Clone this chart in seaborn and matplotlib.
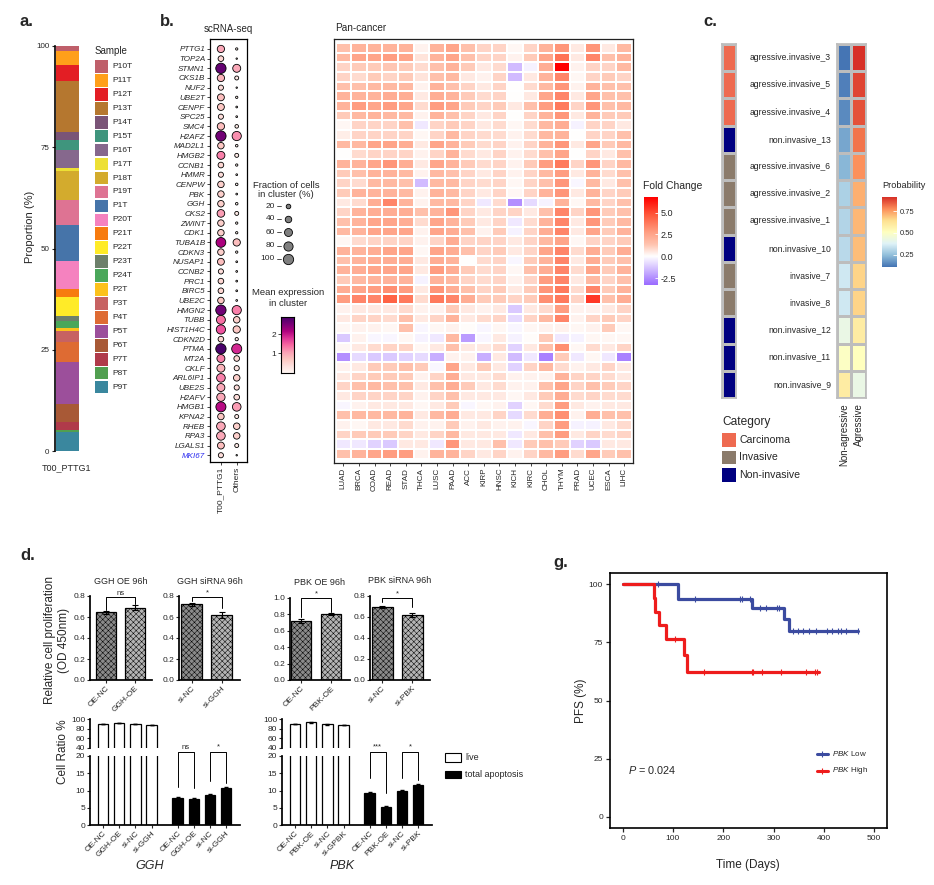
import numpy as np
import pandas as pd
import matplotlib
matplotlib.use("Agg")
import matplotlib.pyplot as plt
import seaborn as sns
from matplotlib.colors import LinearSegmentedColormap, ListedColormap, TwoSlopeNorm
from matplotlib.patches import Rectangle

# ---------------- data ----------------
# a. sample composition of the T00_PTTG1 cluster (%)
samples = ["P10T", "P11T", "P12T", "P13T", "P14T", "P15T", "P16T", "P17T", "P18T", "P19T",
           "P1T", "P20T", "P21T", "P22T", "P23T", "P24T", "P2T", "P3T", "P4T", "P5T",
           "P6T", "P7T", "P8T", "P9T"]
sample_pct = [1.2, 3.5, 3.9, 12.6, 2.0, 2.5, 4.4, 0.7, 7.2, 6.3,
              8.8, 6.9, 2.0, 4.7, 1.2, 1.8, 0.7, 2.7, 4.9, 10.3,
              4.5, 2.0, 0.6, 4.6]
sample_colors = ["#BF5F6A", "#FF9F1A", "#E31E24", "#B5772F", "#7A5477", "#3F957D", "#86688D",
                 "#EDE034", "#D3AB2D", "#DE7393", "#4674A9", "#F582BF", "#F77B0F", "#FFEB28",
                 "#6D806B", "#4AA75A", "#FCC11B", "#C76262", "#DE6B33", "#9C4F9B", "#A85936",
                 "#B03A4A", "#519F50", "#3A879E"]

# b. dot plot
genes = ["PTTG1", "TOP2A", "STMN1", "CKS1B", "NUF2", "UBE2T", "CENPF", "SPC25", "SMC4", "H2AFZ",
         "MAD2L1", "HMGB2", "CCNB1", "HMMR", "CENPW", "PBK", "GGH", "CKS2", "ZWINT", "CDK1",
         "TUBA1B", "CDKN3", "NUSAP1", "CCNB2", "PRC1", "BIRC5", "UBE2C", "HMGN2", "TUBB", "HIST1H4C",
         "CDKN2D", "PTMA", "MT2A", "CKLF", "ARL6IP1", "UBE2S", "H2AFV", "HMGB1", "KPNA2", "RHEB",
         "RPA3", "LGALS1", "MKI67"]
frac_pttg1 = [50, 30, 100, 50, 25, 45, 45, 25, 50, 100, 40, 60, 30, 25, 40, 40, 40, 55, 40, 40,
              90, 40, 45, 25, 30, 30, 40, 100, 75, 80, 30, 100, 60, 60, 70, 60, 65, 95, 40, 70,
              70, 45, 25]
expr_pttg1 = [1.0, 0.5, 2.7, 0.9, 0.4, 0.8, 0.7, 0.4, 0.8, 2.6, 0.7, 1.3, 0.5, 0.4, 0.6, 0.6, 0.6, 1.1, 0.6, 0.6,
              2.2, 0.6, 0.8, 0.4, 0.5, 0.5, 0.7, 2.6, 1.4, 1.6, 0.5, 2.9, 1.3, 0.9, 1.3, 1.0, 1.0, 2.1, 0.7, 1.0,
              1.0, 0.8, 0.4]
frac_others = [5, 2, 60, 15, 2, 5, 3, 3, 12, 80, 6, 15, 5, 3, 6, 3, 6, 15, 5, 5,
               50, 5, 3, 3, 3, 3, 3, 80, 40, 50, 10, 95, 30, 25, 40, 25, 30, 70, 15, 40,
               40, 15, 2]
expr_others = [0.1, 0.05, 1.0, 0.2, 0.02, 0.1, 0.05, 0.05, 0.2, 1.2, 0.1, 0.2, 0.1, 0.05, 0.1, 0.05, 0.1, 0.2, 0.1, 0.1,
               0.8, 0.1, 0.05, 0.05, 0.05, 0.05, 0.05, 1.3, 0.6, 0.7, 0.2, 1.9, 0.5, 0.3, 0.6, 0.4, 0.4, 1.1, 0.2, 0.6,
               0.6, 0.2, 0.02]
clusters = ["T00_PTTG1", "Others"]
size_legend = [20, 40, 60, 80, 100]

# b. pan-cancer fold change (rows = genes, columns = cancers)
cancers = ["LUAD", "BRCA", "COAD", "READ", "STAD", "THCA", "LUSC", "PAAD", "ACC", "KIRP",
           "HNSC", "KICH", "KIRC", "CHOL", "THYM", "PRAD", "UCEC", "ESCA", "LIHC"]
fold_change = [
    [1.5, 2, 2, 2, 2, 0.3, 2, 2.5, 1.5, 1, 1, 0.2, 1, 2, 3, 0.5, 3, 0.5, 1.8],
    [1.8, 2.5, 2.5, 2.8, 2.5, 0.6, 2, 2.5, 1.5, 1, 1, 0.3, 1.2, 2.5, 4, 0.5, 3.5, 1.5, 2],
    [1, 1.2, 1.2, 1.3, 1.2, 0.8, 1.5, 2, 1.2, 0.5, 0.8, -1.5, -0.3, 2.2, 6.8, 0.3, 1, 1, 1.8],
    [1, 0.8, 1.2, 1, 1.2, 0.6, 1.5, 1.8, 0.5, 0.3, 1, -1.5, 0.5, 2, 3.5, 0.2, 1, 1.2, 1],
    [1.5, 1.5, 1.8, 1.8, 1.8, 0.3, 2, 1.5, 1, 0.5, 1, 0, 0.8, 1.8, 3, 0.3, 2, 1.5, 1.5],
    [2, 2, 2, 2.2, 2.2, 0.5, 2.2, 2, 1.2, 0.8, 1, 0, 0.5, 2.5, 3.5, 0.5, 2.5, 1.5, 1.5],
    [2, 2.8, 2.5, 2.8, 2.5, 0.8, 2.8, 2.5, 1.2, 1, 1.2, 0.5, 1.5, 2.8, 3.8, 1, 3, 1.5, 1.8],
    [1.2, 1.8, 2, 1.8, 1.8, 0.3, 2, 1.5, 1, 0.5, 1, 0, 1, 2, 3, 0.5, 2, 1.2, 1.2],
    [0.2, 1, 1, 1, 1.5, -0.5, 1, 1.2, 1, 0.5, 0.8, 0.2, 0.8, 1.8, 2.2, -0.3, 1, 1, 0.5],
    [0.4, 1, 1, 1, 1, 0.2, 1, 1.8, 1, 0.8, 0.8, 0.3, 0.8, 1.8, 2, 0, 1, 1, 1.5],
    [1.8, 1.8, 2.5, 2.5, 2.2, 0.5, 2.5, 2, 1.2, 0.8, 1, 0.3, 1, 2, 3, 0.5, 2.5, 1.2, 1.8],
    [0, 0.8, 1, 1, 1, 0.3, 1, 2, 0.8, 0.5, 1, 0.3, 0.8, 1.5, 2.5, 0, 1, 0.5, 1.5],
    [2, 2, 2.5, 3, 2.2, 0.5, 2.5, 2, 1.2, 0.8, 1, 0.3, 1.2, 2.8, 3.8, 1, 3, 1, 1.8],
    [1.2, 1.5, 2, 2, 1.8, 0.3, 1.8, 1.5, 1, 0.5, 1, 0.3, 1, 1.8, 2.8, 0.5, 2, 0.8, 1.5],
    [1, 0.8, 1.8, 1.8, 1.5, -1.5, 1.8, 1.8, 1, 0.8, 1, 0.2, 1, 1.5, 3, -0.2, 1.8, 0.5, 1.5],
    [1.2, 2, 2, 2, 1.8, 0.3, 2, 1.8, 1, 0.5, 1, 0.2, 1, 2, 3, 0.5, 2, 1, 1.2],
    [0.5, 0.8, 2.2, 3.5, 2, 0.3, 1.8, 1.8, 1, -0.5, 0.8, -2.5, -0.8, -0.3, 2, 0.2, 1.8, 1, 1.5],
    [1, 2, 2.2, 2.2, 2.2, 1.5, 2, 3, 1, 0.5, 1, 1, 0.5, 1.5, 3.5, 1, 3, 1.2, 1.5],
    [1.5, 2, 2.5, 2.5, 2.2, 0.8, 2.5, 2, 1.2, 0.5, 1, -0.5, 0.8, 2, 3.5, 0.5, 3, 1.2, 1.8],
    [1.8, 2, 2.5, 2.5, 2.5, 0.3, 2.5, 2.2, 1.5, 0.3, 1.2, -0.3, 1, 2.2, 3.5, 0.5, 2.5, 1.2, 2],
    [0.2, 0.8, 1, 1, 1, 0.3, 1, 2.2, 1, 1, 1, 0.5, 1, 1.8, 2.5, 0.2, 1, 1, 1.2],
    [2, 2, 2.2, 2.5, 2.5, 0.2, 2.5, 2.2, 1.5, 1, 1.2, 0.5, 1, 2.5, 3.5, 0.8, 2.2, 1.2, 2.2],
    [1.5, 2, 2.2, 2.2, 2.2, 0.5, 2.2, 2, 0, 0.8, 1, -0.2, 1.2, 2, 3.5, 0.5, 2.2, 1.2, 1.5],
    [2, 2.2, 2.5, 2.5, 2.5, 0.5, 2.8, 2.2, 1.2, 0.8, 1, 0.2, 1.5, 2.2, 3.5, 0.8, 2.5, 1.2, 2],
    [1.2, 1.8, 2, 2, 2, -0.3, 2, 1.8, 1, 0.8, 1, 0.3, 1, 2.8, 3.5, 0.5, 1.8, 1, 1.5],
    [2.2, 2.5, 2.8, 3.2, 2.8, 0.5, 3, 2.2, 1.5, 1, 1.2, 0.5, 1.2, 3, 3.8, 0.8, 3.5, 1.2, 2],
    [2.8, 3.5, 3.5, 4.5, 3.8, 0.8, 3.8, 3.5, 2.2, 1.2, 1.2, 1, 1.2, 3.2, 3.8, 1, 5.5, 1.5, 2.2],
    [0.3, 0.5, 0.5, 0.5, 0.8, 0.3, 0.3, 1.2, 0.5, 0.3, 0.5, -1.2, 0.5, 0.8, 2.8, 0.3, 0.3, 0.5, 1],
    [0.5, 1, 1, 0.8, 1.5, 0.5, 1, 2, 0.5, 0.8, 1, -0.8, 1, 1.8, 3.5, 0.3, 1, 1.2, 1],
    [0.2, 0.3, 0.3, 0.2, 1.5, -0.2, 0.2, 0.3, 0.1, -0.2, 0.2, -0.2, 0.2, 0.3, 0.3, 0.2, 0.3, 1.2, 0.2],
    [-1.2, 0.3, -0.2, -0.2, 0.2, -0.3, -0.5, 1.8, -2.2, -0.2, 0.5, -0.3, 0.1, 1.2, -0.5, -0.3, 0.2, 0.2, 0.2],
    [0.2, 0.5, 0.8, 1, 1, 0.2, 0.5, 1.5, 0.5, 0.5, 0.8, -1, 0.5, 1.5, 3.2, 0.2, 0.8, 0.5, 1],
    [-2.5, -0.8, -1.2, -1.2, -1, -0.8, -1.8, 0.3, 0.3, -1.8, 0.5, -1.5, -0.5, -2.8, 1.2, -0.5, 0.2, -0.5, -2.8],
    [0.3, 0.5, 1.2, 1.2, 1.5, 1.2, -0.2, 2.5, 0.5, 1.2, 0.5, -1, 1, 1.8, 0.8, 0.3, 0.5, 1, 0.5],
    [0.5, 1, 1.2, 1.2, 1.2, 0.3, 1, 2.2, 0.5, 0.5, 0.8, 0.3, 0.3, 0.3, 2, 1, 1, 0.8, 0.5],
    [1, 1.5, 1.8, 1.5, 1.5, 0.5, 1.5, 2.2, 1.2, 0.5, 0.8, 0.3, 0.3, 1.5, 2.5, 1, 1.5, 1.2, 1],
    [0.5, 1, 1, 1, 1, 0.3, 1, 1.5, 0.5, 0.5, 0.5, 0.2, 0.5, 1.2, 2.2, 0.8, 1, 0.8, 0.8],
    [-0.2, 0.3, 0.5, 0.5, 0.5, 0.2, 0.5, 1.2, -0.2, 0.2, 0.3, -1, 0.2, 0.8, 2.8, 0.5, 0.3, 0.5, 0.5],
    [1.5, 1.8, 1.8, 1.8, 2, 0.5, 1.8, 2.2, 0.5, 0.5, 1, -0.8, 0.8, 2.2, 3.2, 0.3, 2.2, 1.5, 1.5],
    [0.3, 0.2, 0.5, 0.5, 0.8, 0.3, 0.3, 1.2, 0.3, 0.5, 0.3, 0.3, -0.2, 1, 2.8, -0.3, -0.3, 0.5, 0.8],
    [1, 1.2, 1.2, 1.2, 1, 0.5, 1, 1.8, 0.5, 0.5, 0.5, -0.5, 0.5, 1.5, 2.8, 0.5, 1, 0.8, 1],
    [-0.5, -0.5, -1, -1.2, 0.5, 0.5, -0.5, 3, 0.5, 0.5, 1.5, -0.5, 1.2, 1.5, 1.2, -1, -1.2, 0.5, 0.5],
    [1.5, 2, 2.5, 2.8, 2.8, 0.3, 2, 2, 1, 0.5, 1, 0.3, 1, 1.8, 2.8, 0.8, 2.5, 1.2, 1.5],
]

# c. state classification
states = ["agressive.invasive_3", "agressive.invasive_5", "agressive.invasive_4", "non.invasive_13",
          "agressive.invasive_6", "agressive.invasive_2", "agressive.invasive_1", "non.invasive_10",
          "invasive_7", "invasive_8", "non.invasive_12", "non.invasive_11", "non.invasive_9"]
state_category = ["Carcinoma", "Carcinoma", "Carcinoma", "Non-invasive", "Invasive", "Invasive",
                  "Invasive", "Non-invasive", "Invasive", "Invasive", "Non-invasive", "Non-invasive",
                  "Non-invasive"]
categories = ["Carcinoma", "Invasive", "Non-invasive"]
prob_nonagr = [0.11, 0.13, 0.15, 0.20, 0.23, 0.29, 0.30, 0.31, 0.35, 0.35, 0.42, 0.50, 0.59]
prob_agr = [0.91, 0.88, 0.86, 0.81, 0.77, 0.72, 0.71, 0.70, 0.66, 0.66, 0.59, 0.51, 0.42]

# d. proliferation (OD 450nm)
ggh_oe_groups, ggh_oe_od, ggh_oe_err = ["OE-NC", "GGH-OE"], [0.645, 0.69], [0.015, 0.02]
ggh_si_groups, ggh_si_od, ggh_si_err = ["si-NC", "si-GGH"], [0.72, 0.62], [0.015, 0.03]
pbk_oe_groups, pbk_oe_od, pbk_oe_err = ["OE-NC", "PBK-OE"], [0.72, 0.80], [0.025, 0.01]
pbk_si_groups, pbk_si_od, pbk_si_err = ["si-NC", "si-PBK"], [0.69, 0.62], [0.01, 0.02]

# d. apoptosis (%)
ggh_live_groups = ["OE-NC", "GGH-OE", "si-NC", "si-GGH"]
ggh_apop_groups = ["OE-NC", "GGH-OE", "si-NC", "si-GGH"]
ggh_live, ggh_live_err = [90, 91, 89.5, 88], [0.3, 0.3, 0.4, 0.5]
ggh_apop, ggh_apop_err = [7.8, 7.5, 8.8, 10.8], [0.2, 0.2, 0.2, 0.3]
pbk_live_groups = ["OE-NC", "PBK-OE", "si-NC", "si-GPBK"]
pbk_apop_groups = ["OE-NC", "PBK-OE", "si-NC", "si-PBK"]
pbk_live, pbk_live_err = [90, 93, 89, 87.5], [0.3, 0.3, 0.4, 0.4]
pbk_apop, pbk_apop_err = [9.3, 5.2, 10.0, 11.6], [0.2, 0.2, 0.2, 0.2]

# g. Kaplan-Meier (PFS %)
km_low_t = [0, 111, 258, 321, 330]
km_low_s = [100, 93.8, 90.0, 85.0, 80.0]
km_low_end = 467
km_low_cens = [70, 144, 233, 238, 254, 273, 286, 306, 311, 339, 349, 359, 371, 385, 407, 417, 428, 435, 445, 467]
km_high_t = [0, 62, 65, 73, 87, 122, 129]
km_high_s = [100, 94.1, 88.2, 82.4, 76.5, 69.6, 62.1]
km_high_end = 390
km_high_cens = [105, 162, 257, 260, 278, 315, 364, 382, 387]

# ---------------- style ----------------
sns.set_theme(style="ticks")
plt.rcParams['font.family'] = ['Liberation Sans', 'DejaVu Sans']
plt.rcParams['mathtext.fontset'] = 'custom'
plt.rcParams['mathtext.it'] = 'Liberation Sans:italic'
plt.rcParams['mathtext.rm'] = 'Liberation Sans'
plt.rcParams['hatch.linewidth'] = 0.35
plt.rcParams['axes.edgecolor'] = 'black'

W, H = 934, 885
fig = plt.figure(figsize=(W / 100, H / 100), dpi=100)


def add_ax(x0, y0, x1, y1):
    # pixel box (top-left origin) -> figure axes
    return fig.add_axes([x0 / W, 1 - y1 / H, (x1 - x0) / W, (y1 - y0) / H])


cv = add_ax(0, 0, W, H)
cv.set_xlim(0, W)
cv.set_ylim(H, 0)
cv.axis('off')
cv.set_zorder(10)

for lab, x, y in [("a.", 20, 22), ("b.", 160, 21), ("c.", 703, 22), ("d.", 20, 556), ("g.", 553, 563)]:
    cv.text(x, y, lab, fontsize=12, fontweight='bold', va='center')

# ---------------- a. ----------------
ax_a = add_ax(55, 46, 80, 451)
bottom = 0
for pct, col in zip(sample_pct[::-1], sample_colors[::-1]):
    ax_a.bar(0, pct, bottom=bottom, width=0.9, color=col, linewidth=0)
    bottom += pct
ax_a.set_xlim(-0.5, 0.5)
ax_a.set_ylim(0, 100)
ax_a.set_yticks([0, 25, 50, 75, 100])
ax_a.set_xticks([])
ax_a.tick_params(axis='y', labelsize=5.8, length=2.5, width=0.8, pad=1.5)
sns.despine(ax=ax_a, bottom=True)
ax_a.spines['left'].set_linewidth(1.2)
cv.text(30, 227, "Proportion (%)", rotation=90, ha='center', va='center', fontsize=8)
cv.text(67, 468, "T00_PTTG1", ha='center', va='center', fontsize=6.5)
cv.text(95, 51, "Sample", va='center', fontsize=7)
for i, (name, col) in enumerate(zip(samples, sample_colors)):
    y = 66.5 + 13.94 * i
    cv.add_patch(Rectangle((95, y - 6.3), 12.7, 12.6, color=col, lw=0))
    cv.text(112, y, name, va='center', fontsize=6)

# ---------------- b. dot plot ----------------
dot_df = pd.DataFrame({
    "gene": genes * 2,
    "cluster": [clusters[0]] * len(genes) + [clusters[1]] * len(genes),
    "frac": frac_pttg1 + frac_others,
    "expr": expr_pttg1 + expr_others,
})
ax_b = add_ax(210, 39, 247, 462)
sns.scatterplot(data=dot_df, x="cluster", y="gene", size="frac", sizes=(0, 55), size_norm=(0, 100),
                hue="expr", palette="RdPu", hue_norm=(0, 2.9), edgecolor="black", linewidth=0.6,
                legend=False, ax=ax_b)
ax_b.set_xlim(-0.69, 1.65)
ax_b.set_ylim(42.7, -1.03)
ax_b.set_yticks(range(len(genes)))
ax_b.set_yticklabels(genes, fontsize=5.8, style='italic')
ax_b.get_yticklabels()[-1].set_color('#2B2BF0')
ax_b.set_xticks([0, 1])
ax_b.set_xticklabels(clusters, rotation=90, fontsize=6)
ax_b.set_xlabel("")
ax_b.set_ylabel("")
ax_b.tick_params(length=2, width=0.6, pad=1.5)
for sp in ax_b.spines.values():
    sp.set_visible(True)
    sp.set_linewidth(0.9)
cv.text(228, 29, "scRNA-seq", ha='center', va='center', fontsize=7)

cv.text(286, 185, "Fraction of cells", ha='center', va='center', fontsize=6.8)
cv.text(286, 194.5, "in cluster (%)", ha='center', va='center', fontsize=6.8)
for v, y in zip(size_legend, [206, 218.5, 232, 245.5, 258.5]):
    cv.scatter([288.3], [y], s=55 * v / 100, color='#7f7f7f', edgecolor='black', linewidth=0.6)
    cv.text(275, y, str(v), ha='right', va='center', fontsize=6)
    cv.plot([277, 280.5], [y, y], color='#333333', lw=0.6)
cv.text(288, 292.5, "Mean expression", ha='center', va='center', fontsize=6.8)
cv.text(288, 304, "in cluster", ha='center', va='center', fontsize=6.8)
cax_e = add_ax(281, 316.7, 294, 372.7)
cax_e.imshow(np.linspace(0, 2.9, 200)[:, None], aspect='auto', origin='lower', cmap='RdPu',
             extent=[0, 1, 0, 2.9], vmin=0, vmax=2.9)
cax_e.set_xticks([])
cax_e.set_yticks([1, 2])
cax_e.tick_params(axis='y', labelsize=6, length=2, width=0.6, pad=1.5)
for sp in cax_e.spines.values():
    sp.set_linewidth(0.8)

# ---------------- b. pan-cancer heatmap ----------------
fc_df = pd.DataFrame(fold_change, index=genes, columns=cancers)
fc_norm = TwoSlopeNorm(vmin=-3.3, vcenter=0, vmax=6.8)
fc_cmap = LinearSegmentedColormap.from_list(
    "fc", [(0, "#9A6BFF"), (0.5, "#FFFFFF"), (0.6, "#FFC4B0"), (0.7, "#FFA084"),
           (0.85, "#FF5A3C"), (1.0, "#FF0000")])
ax_h = add_ax(334, 39, 633, 463)
sns.heatmap(fc_df, cmap=fc_cmap, norm=fc_norm, cbar=False, linewidths=1.2, linecolor='white',
            xticklabels=True, yticklabels=False, ax=ax_h)
ax_h.set_xlim(-0.1, 19.06)
ax_h.set_ylim(43.45, -0.4)
ax_h.set_xticks(np.arange(len(cancers)) + 0.5)
ax_h.set_xticklabels(cancers, rotation=90, fontsize=5.8)
ax_h.tick_params(axis='x', length=2, width=0.6, pad=1.5, bottom=True)
for sp in ax_h.spines.values():
    sp.set_visible(True)
    sp.set_color('#222222')
    sp.set_linewidth(0.9)
cv.text(335, 28, "Pan-cancer", va='center', fontsize=7.2)

cv.text(643, 186, "Fold Change", va='center', fontsize=7.5)
cax_fc = add_ax(644, 197, 658, 285)
cax_fc.imshow(np.linspace(-3.3, 6.8, 300)[:, None], aspect='auto', origin='lower', cmap=fc_cmap,
              norm=fc_norm, extent=[0, 1, -3.3, 6.8])
cax_fc.set_xticks([])
cax_fc.set_yticks([-2.5, 0, 2.5, 5.0])
cax_fc.set_yticklabels(["-2.5", "0.0", "2.5", "5.0"])
cax_fc.yaxis.tick_right()
cax_fc.tick_params(axis='y', labelsize=6.5, length=2, width=0.6, color='white', pad=2, direction='in')
for sp in cax_fc.spines.values():
    sp.set_visible(False)

# ---------------- c. ----------------
cat_colors = ["#EE6A50", "#8B7B6B", "#000080"]
cat_df = pd.DataFrame({"Category": [categories.index(c) for c in state_category]}, index=states)
ax_c1 = add_ax(722, 44, 735.5, 398)
sns.heatmap(cat_df, cmap=ListedColormap(cat_colors), vmin=-0.5, vmax=2.5, cbar=False,
            linewidths=1, linecolor='#BDBDBD', xticklabels=False, yticklabels=False, ax=ax_c1)
for sp in ax_c1.spines.values():
    sp.set_visible(True)
    sp.set_color('#BDBDBD')

prob_cmap = LinearSegmentedColormap.from_list(
    "prob", ["#4575B4", "#91BFDB", "#E0F3F8", "#FFFFBF", "#FEE090", "#FC8D59", "#D73027"])
prob_df = pd.DataFrame({"Non-agressive": prob_nonagr, "Agressive": prob_agr}, index=states)
ax_c2 = add_ax(836.5, 44, 866, 398)
sns.heatmap(prob_df, cmap=prob_cmap, vmin=0.11, vmax=0.91, cbar=False, linewidths=1,
            linecolor='#BDBDBD', xticklabels=True, yticklabels=True, ax=ax_c2)
ax_c2.set_yticks(np.arange(len(states)) + 0.5)
ax_c2.set_yticklabels(states, rotation=0, fontsize=6.2)
ax_c2.set_xticks([0.5, 1.5])
ax_c2.set_xticklabels(prob_df.columns, rotation=90, fontsize=7)
ax_c2.tick_params(length=0, pad=4)
for sp in ax_c2.spines.values():
    sp.set_visible(True)
    sp.set_color('#BDBDBD')

cv.text(882, 185, "Probability", va='center', fontsize=6.6)
cax_p = add_ax(882, 197, 897, 267)
cax_p.imshow(np.linspace(0.11, 0.91, 200)[:, None], aspect='auto', origin='lower', cmap=prob_cmap,
             extent=[0, 1, 0.11, 0.91], vmin=0.11, vmax=0.91)
cax_p.set_xticks([])
cax_p.set_yticks([0.25, 0.5, 0.75])
cax_p.set_yticklabels(["0.25", "0.50", "0.75"])
cax_p.yaxis.tick_right()
cax_p.tick_params(axis='y', labelsize=5.4, length=3, width=0.6, color='white', pad=2, direction='in')
for sp in cax_p.spines.values():
    sp.set_visible(False)

cv.text(722, 421.5, "Category", va='center', fontsize=8.6)
for i, (name, col) in enumerate(zip(categories, cat_colors)):
    y = 440 + 17.5 * i
    cv.add_patch(Rectangle((722, y - 6.6), 13.5, 13.3, color=col, lw=0))
    cv.text(739, y, name, va='center', fontsize=7.6)


# ---------------- d. proliferation ----------------
def prolif_panel(box, groups, od, err, ymax, xlim, width, title, sig, bracket):
    ax = add_ax(*box)
    df = pd.DataFrame({"group": groups, "od": od})
    sns.barplot(data=df, x="group", y="od", color="#9a9a9a", width=width, edgecolor="black",
                linewidth=0.9, ax=ax)
    for p, fc in zip(ax.patches, ["#8a8a8a", "#b4b4b4"]):
        p.set_facecolor(fc)
        p.set_hatch("xxxxxx")
    ax.errorbar(range(len(od)), od, yerr=err, fmt='none', ecolor='black', elinewidth=0.8, capsize=2,
                capthick=0.8)
    ax.set_xlim(*xlim)
    ax.set_ylim(0, ymax)
    ax.set_yticks(np.round(np.arange(0, ymax + 0.01, 0.2), 1))
    ax.set_xticks([0, 1])
    ax.set_xticklabels(groups, rotation=45, ha='right', rotation_mode='anchor', fontsize=6)
    ax.set_xlabel("")
    ax.set_ylabel("")
    ax.tick_params(labelsize=6, length=2, width=0.8, pad=1.5)
    sns.despine(ax=ax)
    ax.set_title(title, fontsize=6.5, pad=9)
    top, l0, l1 = bracket
    ax.plot([0, 0, 1, 1], [l0, top, top, l1], color='black', lw=0.7, clip_on=False)
    ax.text(0.5, top + ymax * 0.005, sig, ha='center', va='bottom', fontsize=5.5)
    return ax


prolif_panel((90, 596, 152, 680), ggh_oe_groups, ggh_oe_od, ggh_oe_err, 0.8, (-0.55, 1.59), 0.7,
             "GGH OE 96h", "ns", (0.79, 0.67, 0.72))
prolif_panel((179, 596, 240, 680), ggh_si_groups, ggh_si_od, ggh_si_err, 0.8, (-0.43, 1.6), 0.7,
             "GGH siRNA 96h", "*", (0.79, 0.75, 0.686))
prolif_panel((290, 597.7, 350, 680), pbk_oe_groups, pbk_oe_od, pbk_oe_err, 1.0, (-0.37, 1.63), 0.65,
             "PBK OE 96h", "*", (1.0, 0.77, 0.83))
prolif_panel((370, 595.7, 430, 680), pbk_si_groups, pbk_si_od, pbk_si_err, 0.8, (-0.4, 1.6), 0.7,
             "PBK siRNA 96h", "*", (0.78, 0.74, 0.69))

cv.text(57, 640, "Relative cell proliferation\n(OD 450nm)", rotation=90, ha='center', va='center',
        fontsize=8.5, linespacing=1.15)


# ---------------- d. apoptosis (broken axis) ----------------
def apoptosis_panel(x0, live_groups, apop_groups, live, live_err, apop, apop_err, brackets, gene):
    xpos = np.array([0, 1, 2, 3, 4.6, 5.6, 6.6, 7.6])
    ax_t = add_ax(x0, 719, x0 + 150, 748)
    ax_b = add_ax(x0, 756, x0 + 150, 825)
    for ax in (ax_t, ax_b):
        ax.bar(xpos[:4], live, width=0.65, color='white', edgecolor='black', linewidth=0.9)
        ax.bar(xpos[4:], apop, width=0.65, color='black', edgecolor='black', linewidth=0.9)
        ax.errorbar(xpos[:4], live, yerr=live_err, fmt='none', ecolor='black', elinewidth=0.7, capsize=1.5)
        ax.errorbar(xpos[4:], apop, yerr=apop_err, fmt='none', ecolor='black', elinewidth=0.7, capsize=1.5)
        ax.set_xlim(-0.8, 8.45)
        ax.tick_params(labelsize=6, length=2, width=0.8, pad=1.5)
    ax_t.set_ylim(40, 100)
    ax_t.set_yticks([40, 60, 80, 100])
    ax_t.set_xticks([])
    sns.despine(ax=ax_t, bottom=True)
    ax_b.set_ylim(0, 20)
    ax_b.set_yticks([0, 5, 10, 15, 20])
    ax_b.set_xticks(xpos)
    ax_b.set_xticklabels(live_groups + apop_groups, rotation=45, ha='right', rotation_mode='anchor',
                         fontsize=6)
    sns.despine(ax=ax_b)
    for (i, j, l0, l1, sig) in brackets:
        ax_b.plot([xpos[i], xpos[i], xpos[j], xpos[j]], [l0, 21.2, 21.2, l1], color='black', lw=0.7,
                  clip_on=False)
        ax_b.text((xpos[i] + xpos[j]) / 2, 22.6, sig, ha='center', va='center', fontsize=5.5)
    cv.text(x0 + 60, 866, gene, ha='center', va='center', fontsize=9, style='italic')


apoptosis_panel(90, ggh_live_groups, ggh_apop_groups, ggh_live, ggh_live_err, ggh_apop, ggh_apop_err,
                [(4, 5, 11.1, 10.7, "ns"), (6, 7, 12.8, 12.3, "*")], "GGH")
apoptosis_panel(282, pbk_live_groups, pbk_apop_groups, pbk_live, pbk_live_err, pbk_apop, pbk_apop_err,
                [(4, 5, 13.5, 9.2, "***"), (6, 7, 13.5, 13.0, "*")], "PBK")
cv.text(63, 752, "Cell Ratio %", rotation=90, ha='center', va='center', fontsize=8.5)
cv.add_patch(Rectangle((444.5, 752.5), 16, 9, facecolor='white', edgecolor='black', lw=0.8))
cv.add_patch(Rectangle((444.5, 770.5), 16, 7.5, facecolor='black', edgecolor='black', lw=0.8))
cv.text(465, 757, "live", va='center', fontsize=6.5)
cv.text(465, 774.5, "total apoptosis", va='center', fontsize=6.5)

# ---------------- g. Kaplan-Meier ----------------
ax_g = add_ax(610, 572.7, 886.7, 828.3)
km_sets = [(km_low_t, km_low_s, km_low_end, km_low_cens, "#3B4BA0"),
           (km_high_t, km_high_s, km_high_end, km_high_cens, "#EE1C1C")]
for t, s, end, cens, col in km_sets:
    sns.lineplot(x=t + [end], y=s + [s[-1]], drawstyle='steps-post', estimator=None, color=col,
                 linewidth=2.3, ax=ax_g)
    cy = [s[np.searchsorted(t, c, side='right') - 1] for c in cens]
    ax_g.plot(cens, cy, ls='', marker='|', ms=4, mew=0.8, color=col)
ax_g.set_xlim(-25, 525)
ax_g.set_ylim(-5, 105)
ax_g.set_xticks([0, 100, 200, 300, 400, 500])
ax_g.set_yticks([0, 25, 50, 75, 100])
ax_g.tick_params(labelsize=6, length=3, width=0.9, pad=2)
ax_g.set_xlabel("Time (Days)", fontsize=8.5, labelpad=12)
ax_g.set_ylabel("PFS (%)", fontsize=8.5, labelpad=1)
for sp in ax_g.spines.values():
    sp.set_visible(True)
    sp.set_linewidth(1.2)
cv.text(628, 770, r"$\it{P}$ = 0.024", va='center', fontsize=7.8)
for y, col, lab in [(754, "#3B4BA0", r"$\it{PBK}$ Low"), (770.5, "#EE1C1C", r"$\it{PBK}$ High")]:
    cv.plot([816.5, 828], [y, y], color=col, lw=2.2)
    cv.plot([822], [y], marker='|', ms=4, mew=0.8, color=col)
    cv.text(832, y, lab, va='center', fontsize=5.8)

fig.savefig("out.png", dpi=100)
